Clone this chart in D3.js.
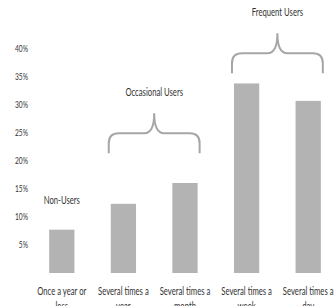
<!DOCTYPE html>
<html>
<head>
<meta charset="utf-8">
<script src="https://cdn.jsdelivr.net/npm/d3@7"></script>
<style>
  body { margin: 0; background: #fff; }
  text { font-family: Lato, "Open Sans", sans-serif; fill: #333; }
</style>
</head>
<body>
<script>
var categories = [["Once a year or", "less"], ["Several times a", "year"], ["Several times a", "month"], ["Several times a", "week"], ["Several times a", "day"]],
	values = [7.7, 12.3, 16, 33.7, 30.6],
	yTicks = [5, 10, 15, 20, 25, 30, 35, 40];

// groups: label, first and last bar, level of the brace ends (in %)
var groupLabels = ["Occasional Users", "Frequent Users"],
	groupFrom = [1, 3],
	groupTo = [2, 4],
	groupLevel = [21.3, 35.5];

var width = 334, height = 306;

var x = d3.scaleBand()
	.domain(d3.range(categories.length))
	.range([31, 339])
	.paddingInner(0.59)
	.paddingOuter(0.295);

var y = d3.scaleLinear()
	.domain([0, 40])
	.range([273, 48]);

var svg = d3.select('body')
	.append('svg')
	.attr('width', width)
	.attr('height', height);

// squeeze text horizontally (the original uses a condensed face)
var squeeze = 0.7;
function narrow(sel) {
	sel.attr('transform', function() {
		var cx = +this.getAttribute('x') || 0;
		return 'translate(' + cx + ',0) scale(' + squeeze + ',1) translate(' + (-cx) + ',0)';
	});
}

// y axis, labels only
var yAxis = d3.axisLeft(y)
	.tickValues(yTicks)
	.tickSize(0)
	.tickPadding(0)
	.tickFormat(function(d) { return d + '%'; });

var ya = svg.append('g')
	.attr('transform', 'translate(28,0)')
	.call(yAxis);
ya.select('.domain').remove();
ya.selectAll('text')
	.style('font-size', '9.5px')
	.style('font-family', null)
	.attr('fill', '#333')
	.call(narrow);

// bars
svg.selectAll('.bar')
	.data(values)
	.enter().append('rect')
		.attr('class', 'bar')
		.attr('x', function(d, i) { return x(i); })
		.attr('y', function(d) { return y(d); })
		.attr('width', x.bandwidth())
		.attr('height', function(d) { return y(0) - y(d); })
		.attr('fill', '#b3b3b3');

// category labels, two lines
var xl = svg.selectAll('.xlabel')
	.data(categories)
	.enter().append('text')
		.attr('class', 'xlabel')
		.attr('x', function(d, i) { return x(i) + x.bandwidth() / 2; })
		.attr('text-anchor', 'middle')
		.style('font-size', '11px');
xl.selectAll('tspan')
	.data(function(d, i) { return d.map(function(s) { return {s: s, i: i}; }); })
	.enter().append('tspan')
		.attr('x', function(d) { return x(d.i) + x.bandwidth() / 2; })
		.attr('y', function(d, j) { return 295 + j * 15; })
		.text(function(d) { return d.s; });
xl.call(narrow);

// Non-Users label over the first bar
svg.append('text')
	.attr('x', x(0) + x.bandwidth() / 2)
	.attr('y', y(12.3))
	.attr('text-anchor', 'middle')
	.style('font-size', '11px')
	.text('Non-Users')
	.call(narrow);

// curly braces
function brace(x0, x1, yb) {
	var xm = (x0 + x1) / 2, r = 10, h = 20;
	return 'M' + x0 + ',' + yb +
		' L' + x0 + ',' + (yb - h + r) +
		' Q' + x0 + ',' + (yb - h) + ' ' + (x0 + r) + ',' + (yb - h) +
		' L' + (xm - r) + ',' + (yb - h) +
		' Q' + xm + ',' + (yb - h) + ' ' + xm + ',' + (yb - 2 * h) +
		' Q' + xm + ',' + (yb - h) + ' ' + (xm + r) + ',' + (yb - h) +
		' L' + (x1 - r) + ',' + (yb - h) +
		' Q' + x1 + ',' + (yb - h) + ' ' + x1 + ',' + (yb - h + r) +
		' L' + x1 + ',' + yb;
}

groupLabels.forEach(function(lab, k) {
	var x0 = x(groupFrom[k]) - 2,
		x1 = x(groupTo[k]) + x.bandwidth() + 2,
		yb = y(groupLevel[k]);
	svg.append('path')
		.attr('d', brace(x0, x1, yb))
		.attr('fill', 'none')
		.attr('stroke', '#a6a6a6')
		.attr('stroke-width', 2);
	svg.append('text')
		.attr('x', (x0 + x1) / 2)
		.attr('y', yb - 57)
		.attr('text-anchor', 'middle')
		.style('font-size', '11px')
		.text(lab)
		.call(narrow);
});
</script>
</body>
</html>
